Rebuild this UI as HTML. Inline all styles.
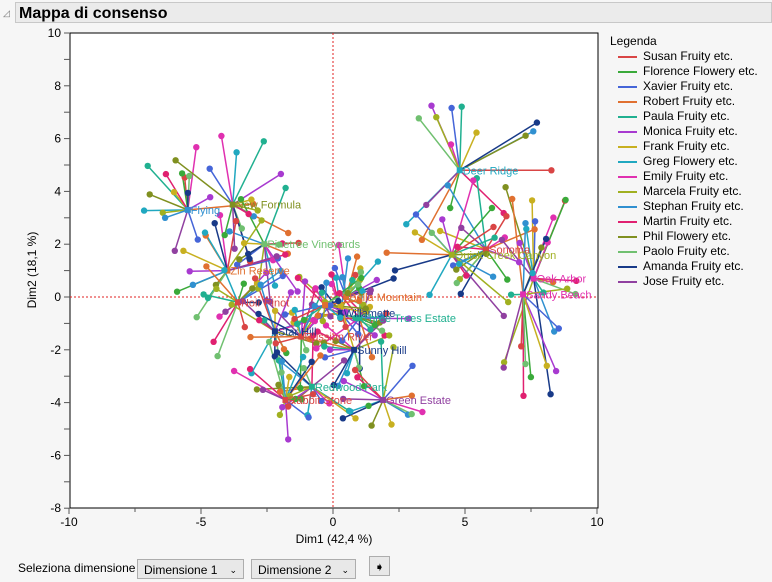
<!DOCTYPE html><html><head><meta charset="utf-8"><style>
body{margin:0;width:772px;height:582px;background:#f6f6f6;font-family:"Liberation Sans",sans-serif;overflow:hidden;position:relative}
.hdr{position:absolute;left:15px;top:2px;width:757px;height:21px;background:#ebebeb;border:1px solid #c8c8c8;font-weight:bold;font-size:16px;line-height:21px;padding-left:3px;box-sizing:border-box}
.tri{position:absolute;left:3px;top:8px;font-size:9px;color:#777}
.leg{position:absolute;left:618px;top:34px;font-size:12px}
.leg div{height:15px;line-height:15px;white-space:nowrap}
.leg span{display:inline-block;width:19px;height:2px;vertical-align:middle;margin-right:6px}
.sel{position:absolute;top:559px;height:20px;border:1px solid #adadad;background:#e8e8e8;font-size:12px;line-height:20px;padding-left:6px;box-sizing:border-box}
</style></head><body>
<div class="tri">◿</div><div class="hdr">Mappa di consenso</div>
<svg id="s" width="772" height="582" style="position:absolute;left:0;top:0"></svg>
<div class="leg"><div style="margin-left:-8px">Legenda</div></div>
<div style="position:absolute;left:18px;top:561px;font-size:12px">Seleziona dimensione</div>
<div class="sel" style="left:137px;width:107px">Dimensione 1 <span style="float:right;margin-right:6px;font-size:9px">⌄</span></div>
<div class="sel" style="left:251px;width:105px">Dimensione 2 <span style="float:right;margin-right:6px;font-size:9px">⌄</span></div>
<div class="sel" style="left:369px;top:556px;width:21px;height:20px;padding:0;text-align:center;font-size:12px">➧</div>
<script>
const names=["Susan Fruity etc.","Florence Flowery etc.","Xavier Fruity etc.","Robert Fruity etc.","Paula Fruity etc.","Monica Fruity etc.","Frank Fruity etc.","Greg Flowery etc.","Emily Fruity etc.","Marcela Fruity etc.","Stephan Fruity etc.","Martin Fruity etc.","Phil Flowery etc.","Paolo Fruity etc.","Amanda Fruity etc.","Jose Fruity etc."];
const cols=["#d94545","#3aaa3a","#4565d8","#e07030","#20b090","#a83ad0","#c8b020","#20a8c0","#e030b0","#a0b020","#3090d0","#e02070","#809020","#70c070","#183a88","#9040a0"];
const leg=document.querySelector('.leg');
names.forEach((n,i)=>{leg.innerHTML+=`<div><span style="background:${cols[i]}"></span>${n}</div>`});
const X=v=>333+v*26.4,Y=v=>297-v*26.4;
let seed=7;const r=()=>{seed=(seed*16807)%2147483647;return seed/2147483647};
let h='';
// frame & axes
h+=`<rect x="70" y="33" width="528" height="475" fill="#fff" stroke="#000"/>`;
h+=`<line x1="333" y1="33" x2="333" y2="508" stroke="#e02020" stroke-dasharray="2,2"/><line x1="70" y1="297" x2="598" y2="297" stroke="#e02020" stroke-dasharray="2,2"/>`;
for(let v=-10;v<=10;v+=2.5){let x=X(v);h+=`<line x1="${x}" y1="508" x2="${x}" y2="${v%5==0?514:512}" stroke="#555"/>`;if(v%5==0)h+=`<text x="${x}" y="526" font-size="12" text-anchor="middle">${v}</text>`}
for(let v=-8;v<=10;v+=1){let y=Y(v);h+=`<line x1="64" y1="${y}" x2="70" y2="${y}" stroke="#555"/>`;if(v%2==0)h+=`<text x="61" y="${y+4}" font-size="12" text-anchor="end">${v}</text>`}
h+=`<text x="334" y="543" font-size="12" text-anchor="middle">Dim1  (42,4 %)</text>`;
h+=`<text transform="translate(36,270) rotate(-90)" font-size="12" text-anchor="middle">Dim2  (18,1 %)</text>`;
const P=[[4.8,4.8,"Deer Ridge",7,1.6],[5.8,1.8,"Sonoma",0,1.3],[4.5,1.6,"Quick Creek Canyon",9,1.4],[7.6,0.7,"Oak Arbor",8,1.5],[7.2,0.1,"Sandy Beach",8,1.5],
[-5.5,3.3,"Flying",10,1.4],[-3.8,3.5,"New Formula",12,1.6],[-2.6,2,"Pinetree Vineyards",13,1.3],[-4,1,"Zin Reserve",3,1.3],[-3.6,-0.2,"Noir Pinot",0,1.3],[-2.2,-1.3,"Star Hill",14,1.3],
[0.5,0,"Bella Mountain",3,1.2],[0.3,-0.6,"Willamette",14,1.2],[1,-0.8,"Three Trees Estate",4,1.2],[-1.2,-1.5,"Russian River",0,1.2],[0.8,-2,"Sunny Hill",14,1.2],
[-0.8,-3.4,"Redwood Park",4,1.3],[-1.8,-3.9,"Rabbit Stone",0,1.3],[1.9,-3.9,"Green Estate",15,1.3],[-0.3,-0.3,"",3,1]];
let pts='',lines='',labs='';
P.forEach(p=>{let cx=X(p[0]),cy=Y(p[1]);
 for(let i=0;i<16;i++){let a=r()*6.283,d=(0.5+r()*1.6)*p[4]*26.4*(p[0]>4?1.1:0.85);
  let x=cx+Math.cos(a)*d*(p[0]>6.5?0.5:1),y=cy+Math.sin(a)*d*(p[0]>6.5?1.4:1);
  lines+=`<line x1="${cx}" y1="${cy}" x2="${x.toFixed(1)}" y2="${y.toFixed(1)}" stroke="${cols[i]}" stroke-width="1.5"/>`;
  pts+=`<circle cx="${x.toFixed(1)}" cy="${y.toFixed(1)}" r="3.2" fill="${cols[i]}"/>`;}
 pts+=`<rect x="${cx-3}" y="${cy-3}" width="6" height="6" fill="${cols[p[3]]}"/>`;
 if(p[2])labs+=`<text x="${cx+3}" y="${cy+4}" font-size="11" fill="${cols[p[3]]}">${p[2]}</text>`;});
h+=lines+pts+labs;
document.getElementById('s').innerHTML=h;
</script></body></html>
